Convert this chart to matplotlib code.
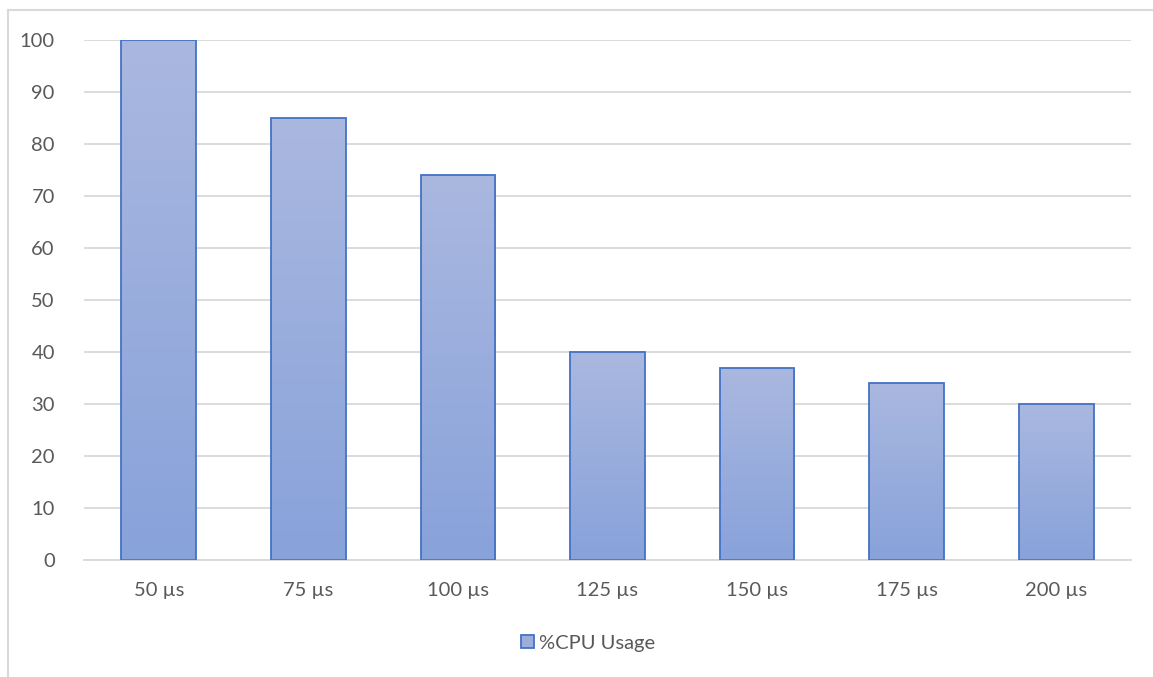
import matplotlib
matplotlib.use("Agg")
import matplotlib.pyplot as plt
import numpy as np
from matplotlib.patches import Rectangle
from matplotlib.lines import Line2D

categories = ["50 µs", "75 µs", "100 µs", "125 µs", "150 µs", "175 µs", "200 µs"]
cpu_usage = [100, 85, 74, 40, 37, 34, 30]

plt.rcParams["font.family"] = ["Lato", "DejaVu Sans"]
text_color = "#595959"
grid_color = "#D9D9D9"
edge_color = "#4472C4"
top_rgb = np.array([0xAA, 0xB8, 0xE0]) / 255
bot_rgb = np.array([0x88, 0xA2, 0xDA]) / 255

fig = plt.figure(figsize=(11.53, 6.77), dpi=100)
ax = fig.add_axes([84 / 1153, 1 - 560 / 677, (1131 - 84) / 1153, 520 / 677])

x = np.arange(len(categories))
bars = ax.bar(x, cpu_usage, width=0.5, color="none", edgecolor=edge_color, linewidth=1.3, zorder=3)

# vertical gradient per bar: lighter at top, darker at bottom
grad = np.linspace(0, 1, 256)[:, None, None]
img = bot_rgb * (1 - grad) + top_rgb * grad
for b in bars:
    x0, y0 = b.get_x(), b.get_y()
    w, h = b.get_width(), b.get_height()
    im = ax.imshow(img, extent=[x0, x0 + w, y0, y0 + h], origin="lower",
                   aspect="auto", zorder=2, interpolation="bilinear")
    im.set_clip_path(b)

ax.set_xlim(-0.5, len(categories) - 0.5)
ax.set_ylim(0, 100)
ax.set_yticks(range(0, 101, 10))
ax.set_xticks(x)
ax.set_xticklabels(categories)
ax.yaxis.grid(True, color=grid_color, linewidth=1.3, zorder=0)
ax.set_axisbelow(True)
for s in ["top", "right", "left"]:
    ax.spines[s].set_visible(False)
ax.spines["bottom"].set_color(grid_color)
ax.spines["bottom"].set_linewidth(1.3)
ax.tick_params(axis="both", length=0, labelsize=14.5, colors=text_color)
ax.tick_params(axis="x", pad=16)
ax.tick_params(axis="y", pad=21)

handle = Rectangle((0, 0), 1, 1, facecolor="#9DAEDD", edgecolor=edge_color, linewidth=1.3)
fig.legend([handle], ["%CPU Usage"], loc="center", bbox_to_anchor=(588 / 1153, 1 - 643 / 677),
           frameon=False, fontsize=14.5, labelcolor=text_color, handlelength=0.65, handleheight=0.65,
           handletextpad=0.25)

# chart area border (left and top edges visible)
fig.add_artist(Line2D([8 / 1153, 8 / 1153], [0, 1 - 10 / 677], transform=fig.transFigure,
                      color=grid_color, linewidth=1.5))
fig.add_artist(Line2D([8 / 1153, 1], [1 - 10 / 677, 1 - 10 / 677], transform=fig.transFigure,
                      color=grid_color, linewidth=1.5))

fig.savefig("out.png", dpi=100)
